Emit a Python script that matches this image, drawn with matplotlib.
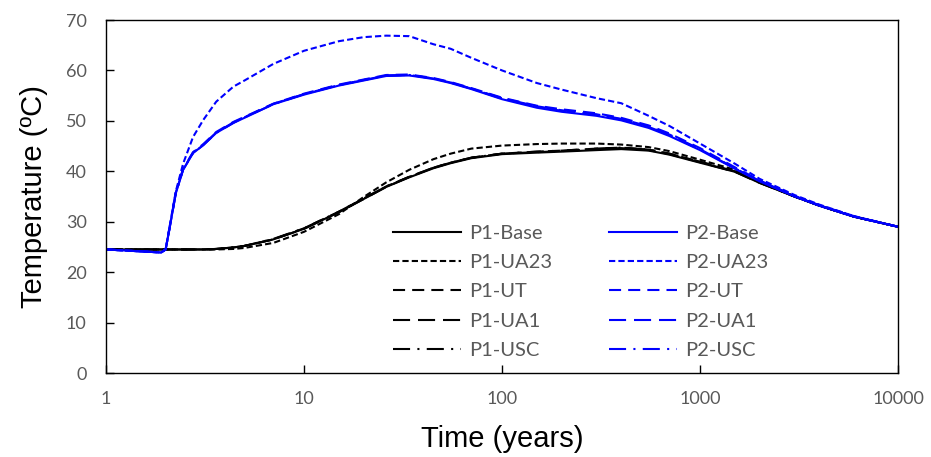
import matplotlib
matplotlib.use('Agg')
import matplotlib.pyplot as plt

# time axis (years), shared by every series
years = [1, 1.9, 2.0, 2.1, 2.25, 2.45, 2.75, 3.1, 3.6, 4.4, 5, 7, 10, 15, 20, 26, 34, 45, 55, 70,
         100, 150, 200, 300, 400, 550, 700, 1000, 1500, 2000, 3000, 4000, 6000, 10000]

# P1 series (black)
p1_base = [24.5, 24.5, 24.5, 24.5, 24.5, 24.5, 24.5, 24.5, 24.6, 24.9, 25.2, 26.5, 28.6, 31.9, 34.5, 36.9, 38.8, 40.6, 41.6, 42.6,
           43.4, 43.7, 43.9, 44.2, 44.4, 44.1, 43.3, 41.7, 39.9, 37.7, 35.0, 33.2, 31.0, 29.0]
p1_ua23 = [24.5, 24.5, 24.5, 24.5, 24.5, 24.5, 24.5, 24.5, 24.5, 24.6, 24.8, 25.8, 28.0, 31.5, 34.9, 37.8, 40.3, 42.4, 43.5, 44.5,
           45.1, 45.4, 45.5, 45.5, 45.3, 44.8, 44.0, 42.3, 40.3, 37.8, 35.0, 33.2, 31.0, 29.0]
p1_ut = [24.5, 24.5, 24.5, 24.5, 24.5, 24.5, 24.5, 24.5, 24.6, 24.9, 25.2, 26.5, 28.7, 32.0, 34.6, 37.0, 38.9, 40.7, 41.7, 42.7,
         43.5, 43.9, 44.1, 44.5, 44.7, 44.3, 43.5, 41.9, 40.0, 37.8, 35.0, 33.2, 31.0, 29.0]
p1_ua1 = [24.5, 24.5, 24.5, 24.5, 24.5, 24.5, 24.5, 24.5, 24.6, 24.9, 25.2, 26.5, 28.6, 31.9, 34.5, 36.9, 38.9, 40.7, 41.7, 42.7,
          43.5, 43.8, 44.0, 44.4, 44.6, 44.2, 43.4, 41.8, 39.9, 37.7, 35.0, 33.2, 31.0, 29.0]
p1_usc = [24.5, 24.5, 24.5, 24.5, 24.5, 24.5, 24.5, 24.5, 24.6, 24.9, 25.2, 26.6, 28.7, 32.0, 34.6, 37.0, 38.9, 40.7, 41.7, 42.7,
          43.5, 43.9, 44.1, 44.5, 44.7, 44.3, 43.5, 41.9, 40.0, 37.8, 35.0, 33.2, 31.0, 29.0]

# P2 series (blue)
p2_base = [24.5, 23.9, 24.5, 29.0, 35.6, 40.3, 43.6, 45.2, 47.6, 49.6, 50.6, 53.3, 55.2, 57.0, 58.0, 58.9, 59.0, 58.3, 57.5, 56.3,
           54.3, 52.6, 51.8, 51.0, 50.1, 48.6, 47.0, 44.2, 40.5, 38.0, 35.0, 33.2, 31.0, 29.0]
p2_ua23 = [24.5, 23.9, 24.5, 29.3, 36.0, 41.5, 46.8, 50.2, 53.8, 56.8, 58.0, 61.3, 63.9, 65.8, 66.6, 66.9, 66.8, 65.2, 64.3, 62.5,
           60.0, 57.5, 56.2, 54.5, 53.5, 51.0, 49.0, 45.5, 41.5, 38.5, 35.3, 33.4, 31.1, 29.0]
p2_ut = [24.5, 23.9, 24.5, 29.1, 35.8, 40.5, 43.8, 45.4, 47.8, 49.8, 50.8, 53.4, 55.4, 57.2, 58.2, 59.1, 59.2, 58.5, 57.7, 56.5,
         54.6, 53.0, 52.3, 51.5, 50.6, 49.1, 47.5, 44.6, 40.8, 38.2, 35.1, 33.3, 31.1, 29.0]
p2_ua1 = [24.5, 23.9, 24.5, 29.0, 35.7, 40.4, 43.7, 45.3, 47.7, 49.7, 50.7, 53.4, 55.3, 57.1, 58.1, 59.0, 59.1, 58.4, 57.6, 56.4,
          54.5, 52.9, 52.1, 51.3, 50.4, 48.9, 47.3, 44.4, 40.6, 38.1, 35.1, 33.2, 31.0, 29.0]
p2_usc = [24.5, 23.9, 24.5, 29.0, 35.6, 40.3, 43.6, 45.2, 47.6, 49.6, 50.7, 53.3, 55.3, 57.1, 58.1, 59.0, 59.1, 58.4, 57.6, 56.4,
          54.4, 52.8, 52.0, 51.2, 50.3, 48.8, 47.2, 44.3, 40.6, 38.1, 35.1, 33.2, 31.0, 29.0]

labels = ['Base', 'UA23', 'UT', 'UA1', 'USC']
styles = ['-', (0, (3, 1.5)), (0, (5.8, 3.4)), (0, (8.2, 3.8)), (0, (8.2, 3.5, 1, 3.5))]
p1 = [p1_base, p1_ua23, p1_ut, p1_ua1, p1_usc]
p2 = [p2_base, p2_ua23, p2_ut, p2_ua1, p2_usc]

tick_font = 'Lato'
label_font = 'Liberation Sans'
gray = '#595959'

fig = plt.figure(figsize=(9.31, 4.57), dpi=100)
ax = fig.add_axes([0.1139, 0.1838, 0.8507, 0.7724])

for name, ls, y in zip(labels, styles, p1):
    ax.plot(years, y, color='black', linestyle=ls, lw=1.5, label='P1-' + name)
for name, ls, y in zip(labels, styles, p2):
    ax.plot(years, y, color='#0000ff', linestyle=ls, lw=1.5, label='P2-' + name)

ax.set_xscale('log')
ax.set_xlim(1, 10000)
ax.set_ylim(0, 70)
ax.set_xticks([1, 10, 100, 1000, 10000])
ax.set_xticklabels(['1', '10', '100', '1000', '10000'])
ax.minorticks_off()
ax.set_yticks(range(0, 71, 10))
ax.tick_params(direction='in', length=6, width=1, labelcolor=gray, labelsize=13)
ax.tick_params(axis='y', pad=14)
ax.tick_params(axis='x', pad=13)
for lab in ax.get_xticklabels() + ax.get_yticklabels():
    lab.set_fontfamily(tick_font)
for s in ax.spines.values():
    s.set_linewidth(1.0)

ax.set_xlabel('Time (years)', fontsize=21, family=label_font, labelpad=13)
ax.set_ylabel('Temperature (ºC)', fontsize=21, family=label_font, labelpad=13)

# legend: two columns, P1 on the left, P2 on the right
leg = ax.legend(ncol=2, frameon=False, loc='upper left', bbox_to_anchor=(0.352, 0.442),
                borderaxespad=0, handlelength=3.4, handletextpad=0.4, columnspacing=2.8,
                labelspacing=0.6, prop={'family': tick_font, 'size': 14.5})
for t in leg.get_texts():
    t.set_color(gray)

fig.savefig('out.png', dpi=100)
